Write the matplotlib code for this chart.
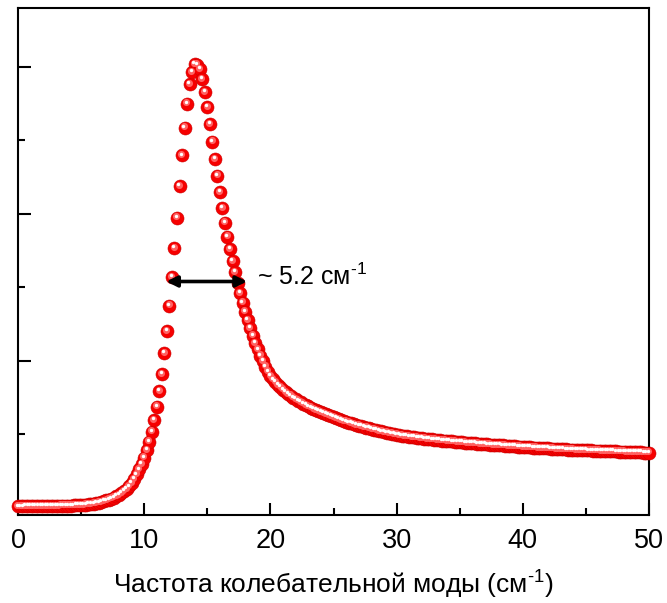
import numpy as np
import matplotlib
matplotlib.use("Agg")
import matplotlib.pyplot as plt
from matplotlib.ticker import MultipleLocator, NullFormatter
from matplotlib.transforms import offset_copy

plt.rcParams['font.family'] = ['Liberation Sans', 'DejaVu Sans']
plt.rcParams['mathtext.fontset'] = 'custom'
plt.rcParams['mathtext.rm'] = 'Liberation Sans'
plt.rcParams['mathtext.it'] = 'Liberation Sans:italic'
plt.rcParams['mathtext.bf'] = 'Liberation Sans:bold'

# ---- data (frequency step 0.2 cm^-1, 0 .. 50) ----
freq_start = 0.0
freq_step = 0.2
intensity = [
    # 0.0 - 1.8
    0.010, 0.010, 0.010, 0.011, 0.011, 0.011, 0.011, 0.012, 0.012, 0.012,
    # 2.0 - 3.8
    0.012, 0.013, 0.013, 0.013, 0.014, 0.014, 0.014, 0.015, 0.015, 0.016,
    # 4.0 - 5.8
    0.016, 0.016, 0.017, 0.018, 0.019, 0.020, 0.021, 0.023, 0.025, 0.027,
    # 6.0 - 7.8
    0.030, 0.033, 0.037, 0.041, 0.046, 0.051, 0.057, 0.064, 0.071, 0.079,
    # 8.0 - 9.8
    0.089, 0.101, 0.114, 0.129, 0.146, 0.167, 0.195, 0.228, 0.262, 0.298,
    # 10.0 - 11.8
    0.342, 0.394, 0.451, 0.519, 0.599, 0.689, 0.796, 0.912, 1.052, 1.204,
    # 12.0 - 13.8
    1.376, 1.569, 1.767, 1.975, 2.190, 2.397, 2.587, 2.750, 2.884, 2.966,
    # 14.0 - 15.8
    3.018, 3.014, 2.984, 2.916, 2.828, 2.726, 2.610, 2.492, 2.372, 2.259,
    # 16.0 - 17.8
    2.148, 2.039, 1.941, 1.846, 1.760, 1.680, 1.603, 1.530, 1.461, 1.396,
    # 18.0 - 19.8
    1.334, 1.276, 1.222, 1.171, 1.123, 1.078, 1.036, 0.997, 0.961, 0.927,
    # 20.0 - 21.8
    0.896, 0.874, 0.855, 0.837, 0.820, 0.804, 0.789, 0.776, 0.763, 0.751,
    # 22.0 - 23.8
    0.740, 0.729, 0.719, 0.709, 0.699, 0.690, 0.682, 0.674, 0.666, 0.658,
    # 24.0 - 25.8
    0.651, 0.644, 0.637, 0.630, 0.623, 0.616, 0.610, 0.604, 0.598, 0.592,
    # 26.0 - 27.8
    0.587, 0.581, 0.576, 0.570, 0.565, 0.560, 0.555, 0.550, 0.546, 0.541,
    # 28.0 - 29.8
    0.537, 0.533, 0.528, 0.524, 0.520, 0.516, 0.512, 0.509, 0.505, 0.501,
    # 30.0 - 31.8
    0.498, 0.495, 0.492, 0.489, 0.487, 0.485, 0.482, 0.480, 0.478, 0.476,
    # 32.0 - 33.8
    0.474, 0.472, 0.470, 0.468, 0.466, 0.464, 0.462, 0.460, 0.458, 0.457,
    # 34.0 - 35.8
    0.455, 0.453, 0.452, 0.450, 0.449, 0.447, 0.446, 0.444, 0.443, 0.441,
    # 36.0 - 37.8
    0.440, 0.439, 0.437, 0.436, 0.434, 0.433, 0.432, 0.431, 0.429, 0.428,
    # 38.0 - 39.8
    0.427, 0.426, 0.425, 0.423, 0.422, 0.421, 0.420, 0.419, 0.417, 0.416,
    # 40.0 - 41.8
    0.415, 0.414, 0.413, 0.412, 0.411, 0.410, 0.409, 0.408, 0.407, 0.406,
    # 42.0 - 43.8
    0.405, 0.404, 0.403, 0.402, 0.401, 0.400, 0.399, 0.398, 0.397, 0.397,
    # 44.0 - 45.8
    0.396, 0.395, 0.394, 0.393, 0.393, 0.392, 0.391, 0.391, 0.390, 0.389,
    # 46.0 - 47.8
    0.389, 0.388, 0.387, 0.387, 0.386, 0.385, 0.385, 0.384, 0.383, 0.383,
    # 48.0 - 49.8
    0.382, 0.381, 0.381, 0.380, 0.380, 0.379, 0.378, 0.378, 0.377, 0.377,
    # 50.0
    0.376,
]
frequency = freq_start + freq_step * np.arange(len(intensity))

x_ticks = [0, 10, 20, 30, 40, 50]
x_label = "Частота колебательной моды (см$^{\u2010 1}$)"

# FWHM annotation
fwhm_left = 11.75
fwhm_right = 18.15
fwhm_level = 1.54
fwhm_text = "~ 5.2 см$^{\u2010 1}$"

# ---- figure ----
fig = plt.figure(figsize=(6.67, 6.03), dpi=100)
ax = fig.add_axes([18 / 667, 88 / 603, 631 / 667, 507 / 603])

# sphere-like markers: base + soft glow + highlight
ax.scatter(frequency, intensity, s=88, color='#f60000', edgecolors='#cc0000',
           linewidths=0.4, zorder=3, clip_on=False)
tr_glow = offset_copy(ax.transData, fig=fig, x=-0.8, y=1.3, units='dots')
ax.scatter(frequency, intensity, s=26, color='#ff6262', linewidths=0,
           zorder=4, transform=tr_glow, clip_on=False)
tr_hi = offset_copy(ax.transData, fig=fig, x=-1.2, y=1.9, units='dots')
ax.scatter(frequency, intensity, s=6, color='#ffffff', linewidths=0,
           zorder=5, transform=tr_hi, clip_on=False)

ax.annotate('', xy=(fwhm_left, fwhm_level), xytext=(fwhm_right, fwhm_level),
            arrowprops=dict(arrowstyle='<|-|>', color='black', lw=2.6,
                            mutation_scale=16, shrinkA=0, shrinkB=0),
            zorder=6)
ax.text(fwhm_right + 0.75, fwhm_level + 0.03, fwhm_text, fontsize=18,
        va='center', ha='left')

ax.set_xlim(0, 50)
ax.set_ylim(-0.048, 3.40)
ax.set_xticks(x_ticks)
ax.xaxis.set_minor_locator(MultipleLocator(5))
ax.yaxis.set_major_locator(MultipleLocator(1))
ax.yaxis.set_minor_locator(MultipleLocator(0.5))
ax.yaxis.set_major_formatter(NullFormatter())

ax.tick_params(axis='both', which='major', direction='in', length=9, width=1.5,
               labelsize=19.5, top=False, right=False, pad=9)
ax.tick_params(axis='both', which='minor', direction='in', length=5, width=1.5,
               top=False, right=False)
for sp in ax.spines.values():
    sp.set_linewidth(1.5)

ax.set_xlabel(x_label, fontsize=19, labelpad=11)

fig.savefig("out.png", dpi=100)
